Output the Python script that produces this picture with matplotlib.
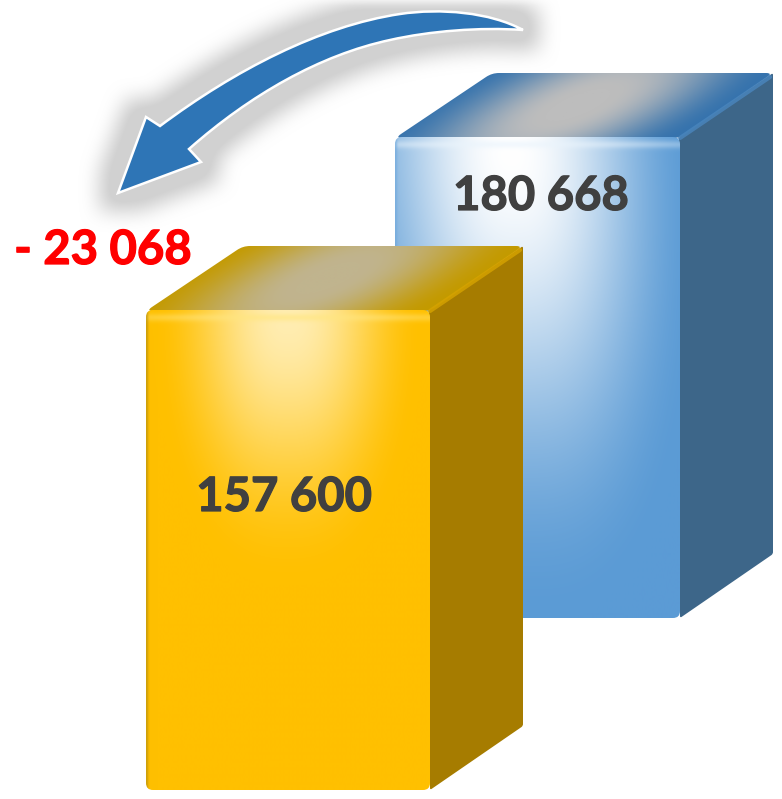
import numpy as np
import matplotlib.pyplot as plt
import matplotlib.patheffects as pe
from matplotlib.path import Path
from matplotlib.patches import PathPatch
from matplotlib.colors import to_rgb

# values printed on the boxes
values = [180668, 157600]
box_names = ["blue", "yellow"]

W, H = 782, 799


def fmt(v):
    return f"{v:,}".replace(",", " ")


def rounded(points, r=6):
    """Closed path through points with rounded corners"""
    pts = [np.array(p, float) for p in points]
    n = len(pts)
    verts, codes = [], []
    for i in range(n):
        p, prev, nxt = pts[i], pts[i - 1], pts[(i + 1) % n]
        a = p + (prev - p) / np.linalg.norm(prev - p) * r
        b = p + (nxt - p) / np.linalg.norm(nxt - p) * r
        verts += [a, p, b]
        codes += [Path.LINETO, Path.CURVE3, Path.CURVE3]
    codes[0] = Path.MOVETO
    verts.append(verts[0])
    codes.append(Path.CLOSEPOLY)
    return Path(verts, codes)


def paint(ax, rgb, x0, x1, y0, y1, path, z):
    im = ax.imshow(rgb, extent=(x0, x1, y1, y0), aspect="auto", zorder=z,
                   interpolation="bilinear")
    im.set_clip_path(PathPatch(path, transform=ax.transData))


def mix(base, light, t):
    return np.array(to_rgb(base)) * (1 - t[..., None]) + np.array(to_rgb(light)) * t[..., None]


def smooth(t):
    t = np.clip(t, 0, 1)
    return t * t * (3 - 2 * t)


def box_blur(a, r):
    k = np.ones(2 * r + 1) / (2 * r + 1)
    a = np.apply_along_axis(lambda row: np.convolve(row, k, mode="same"), 1, a)
    return np.apply_along_axis(lambda col: np.convolve(col, k, mode="same"), 0, a)


def draw_box(ax, left, right, top, bottom, dx, dy, st, z):
    # right side
    side = [(right - 1, top), (right + dx, top - dy), (right + dx, bottom - dy), (right, bottom)]
    ax.add_patch(PathPatch(rounded(side, 2), fc=st["side"], ec="none", zorder=z))

    # top face, grey sheen in the middle
    x0, x1, y0, y1 = left, right + dx, top - dy, top + 2
    xx, yy = np.meshgrid(np.arange(x0, x1 + 1), np.arange(y0, y1 + 1))
    skew = xx + (yy - (top - dy / 2)) * dx / dy
    d = np.hypot((skew - st["top_c"]) / st["top_rx"], (yy - (top - dy / 2)) / (dy * 1.7))
    top_face = [(left, top + 1), (left + dx + 4, top - dy), (right + dx, top - dy), (right, top + 1)]
    paint(ax, mix(st["top_edge"], st["top_mid"], smooth((1.02 - d) * 1.15)), x0, x1, y0, y1,
          rounded(top_face, 7), z + 1)
    ax.plot([right, right + dx - 3], [top + 1, top - dy + 4], color=st["bevel"], lw=3,
            alpha=0.8, solid_capstyle="round", zorder=z + 1)

    # front face
    xx, yy = np.meshgrid(np.arange(left, right + 1), np.arange(top, bottom + 1))
    d = (np.abs((xx - st["cx"] - (yy - top) * st["lean"]) / st["rx"]) ** 2.4
         + np.abs((yy - st["cy"]) / st["ry"]) ** 2.0) ** (1 / 2.2)
    rgb = mix(st["front"], st["light"], smooth(1.0 - d) * st["amount"])
    # lighter strip under the top edge, stronger in the middle, and a rim on the left
    bell = np.exp(-((xx - st["cx"]) / (0.6 * (right - left))) ** 2)
    strip = np.exp(-((yy - top - 7) / 4.0) ** 2) * 0.6 * (0.25 + 0.75 * bell)
    rgb = rgb * (1 - strip[..., None]) + np.array(to_rgb(st["strip"])) * strip[..., None]
    rim = np.exp(-((xx - left) / 2.0) ** 2) * 0.6
    rgb = rgb * (1 - rim[..., None]) + np.array(to_rgb(st["rim"])) * rim[..., None]
    front = [(left, top), (right, top), (right, bottom), (left, bottom)]
    paint(ax, rgb, left, right, top, bottom, rounded(front, 7), z + 2)


styles = {
    "blue": dict(side="#3D6689", top_edge="#3673AD", top_mid="#BDBDBD", top_c=578, top_rx=150,
                 bevel="#4A86BE", front="#5B9BD5", light="#FFFFFF", strip="#EAF4FC", rim="#6FA8DC",
                 amount=1.0, cx=510, cy=150, rx=185, ry=470, lean=0.06),
    "yellow": dict(side="#A67C00", top_edge="#C49A00", top_mid="#C0B48E", top_c=328, top_rx=150,
                   bevel="#D6A300", front="#FFC000", light="#FFEDB2", strip="#FFE680", rim="#B08C10",
                   amount=1.0, cx=288, cy=315, rx=135, ry=270, lean=0.0),
}
boxes = {"blue": (395, 680, 137, 618), "yellow": (146, 430, 310, 790)}

fig = plt.figure(figsize=(W / 100, H / 100), dpi=100)
ax = fig.add_axes([0, 0, 1, 1])

# curved arrow
arrow_verts = [(523, 30), (490, 12), (440, 8), (400, 14), (320, 26), (235, 70), (160, 126),
               (146, 117), (118, 193), (201, 162), (189, 149),
               (250, 95), (320, 55), (390, 40), (430, 31), (480, 27), (523, 30), (523, 30)]
arrow_codes = [Path.MOVETO] + [Path.CURVE4] * 6 + [Path.LINETO] * 4 + [Path.CURVE4] * 6 + [Path.CLOSEPOLY]
arrow = Path(arrow_verts, arrow_codes)

# soft shadow behind the arrow: grow the shape, then blur it
gx, gy = np.meshgrid(np.arange(0, 620), np.arange(0, 260))
mask = arrow.contains_points(np.c_[gx.ravel() + 0.5, gy.ravel() + 0.5]).reshape(gx.shape).astype(float)
mask = (box_blur(mask, 20) > 0.003).astype(float)
for r in (12, 8, 5):
    mask = box_blur(mask, r)
shadow = np.zeros(mask.shape + (4,))
shadow[..., :3] = 0.82
shadow[..., 3] = np.clip(mask * 1.2, 0, 1)
ax.imshow(shadow, extent=(0, 620, 260, 0), aspect="auto", zorder=1)

ax.add_patch(PathPatch(arrow, fc="#2E75B6", ec="white", lw=1.8, joinstyle="miter", zorder=2))

for i, name in enumerate(box_names):
    left, right, top, bottom = boxes[name]
    draw_box(ax, left, right, top, bottom, 93, 64, styles[name], 3 + i * 5)

text_style = dict(family="Lato", weight="bold", fontsize=34, ha="center", va="center", zorder=20)
labels = [
    ax.text(541, 196, fmt(values[0]), color="#404040", **text_style),
    ax.text(284, 497, fmt(values[1]), color="#404040", **text_style),
    ax.text(103, 250, "- " + fmt(abs(values[1] - values[0])), color="#FF0000", **text_style),
]
for t in labels:
    t.set_path_effects([pe.withStroke(linewidth=0.9, foreground=t.get_color())])

ax.set_xlim(0, W)
ax.set_ylim(H, 0)
ax.axis("off")
fig.savefig("out.png", dpi=100)
